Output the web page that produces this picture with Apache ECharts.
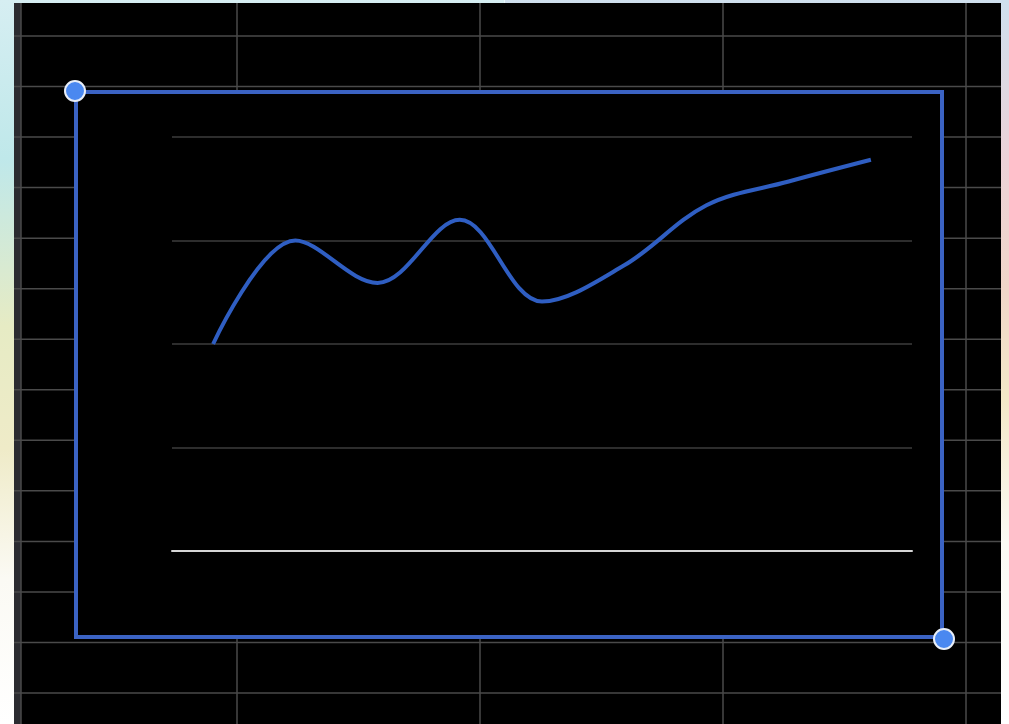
<!DOCTYPE html>
<html>
<head>
<meta charset="utf-8">
<script src="https://cdn.jsdelivr.net/npm/echarts@6/dist/echarts.min.js"></script>
<style>
  html, body { margin: 0; padding: 0; }
  body {
    width: 1009px; height: 724px; overflow: hidden;
    background:
      linear-gradient(to bottom, #d6eef2 0%, #bfe8ea 22%, #e6ebc4 45%, #efebc8 62%, #fbfaf4 80%, #ffffff 100%) left top / 50% 100% no-repeat,
      linear-gradient(to bottom, #cfe0ee 0%, #ecd2d8 22%, #f0d6c8 40%, #f3e8c8 55%, #fbfaf4 75%, #ffffff 100%) right top / 50% 100% no-repeat;
  }
  #chart { width: 1009px; height: 724px; }
</style>
</head>
<body>
<div id="chart"></div>
<script>
  // chart values
  const categories = ['1', '2', '3', '4', '5', '6', '7', '8', '9']
  const values = [200, 300, 259, 320, 241, 276, 334, 357, 378]
  const yTicks = [0, 100, 200, 300, 400]

  const chart = echarts.init(document.getElementById('chart'))

  // spreadsheet cells behind the chart object
  const sheet = []
  sheet.push({ type: 'rect', z: 0, shape: { x: 14, y: 3, width: 987, height: 721 }, style: { fill: '#000' } })
  sheet.push({ type: 'rect', z: 0, shape: { x: 14, y: 3, width: 7, height: 721 }, style: { fill: '#2b2b30' } })
  const colX = [21, 237, 480, 723, 966]
  colX.forEach((x) => {
    sheet.push({ type: 'line', z: 1, shape: { x1: x, y1: 3, x2: x, y2: 724 }, style: { stroke: '#4a4a4a', lineWidth: 1.5 } })
  })
  for (let i = 0; i < 14; i++) {
    const y = 36 + i * 50.54
    sheet.push({ type: 'line', z: 1, shape: { x1: 14, y1: y, x2: 1001, y2: y }, style: { stroke: '#4a4a4a', lineWidth: 1.5 } })
  }
  // chart object area + selection frame
  sheet.push({ type: 'rect', z: 2, shape: { x: 76, y: 92, width: 866, height: 545 }, style: { fill: '#000' } })
  sheet.push({ type: 'rect', z: 20, shape: { x: 76, y: 92, width: 866, height: 545 }, style: { fill: null, stroke: '#3b63c4', lineWidth: 4 } })
  sheet.push({ type: 'circle', z: 21, shape: { cx: 75, cy: 91, r: 10 }, style: { fill: '#4a88f0', stroke: '#e8eef8', lineWidth: 2 } })
  sheet.push({ type: 'circle', z: 21, shape: { cx: 944, cy: 639, r: 10 }, style: { fill: '#4a88f0', stroke: '#e8eef8', lineWidth: 2 } })

  const option = {
    backgroundColor: 'transparent',
    animation: false,
    graphic: { elements: sheet },
    grid: { left: 172, right: 97, top: 137, bottom: 173 },
    xAxis: {
      type: 'category',
      data: categories,
      boundaryGap: true,
      z: 5,
      axisLine: { show: true, lineStyle: { color: '#d6d6d6', width: 2 } },
      axisTick: { show: false },
      axisLabel: { show: false },
    },
    yAxis: {
      type: 'value',
      min: yTicks[0],
      max: yTicks[yTicks.length - 1],
      interval: 100,
      z: 5,
      axisLine: { show: false },
      axisTick: { show: false },
      axisLabel: { show: false },
      splitLine: { show: true, lineStyle: { color: '#3c3c3c', width: 1.5 } },
    },
    series: [
      {
        type: 'line',
        z: 6,
        smooth: 0.35,
        symbol: 'none',
        lineStyle: { color: '#2f5ec2', width: 4 },
        data: values,
      },
    ],
  }
  chart.setOption(option)
</script>
</body>
</html>
